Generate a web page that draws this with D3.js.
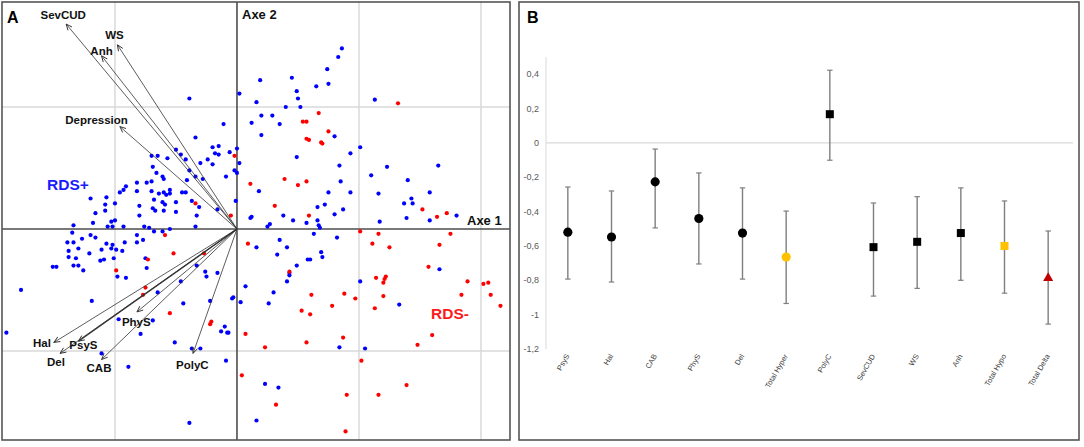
<!DOCTYPE html>
<html><head><meta charset="utf-8">
<script src="https://cdn.jsdelivr.net/npm/d3@7"></script>
<style>body{margin:0;background:#fff} svg{display:block;font-family:"Liberation Sans",Arial,sans-serif}</style>
</head><body><svg id="c" width="1084" height="447"></svg>
<script>
// ---------- Panel A data (PCA plane, axis 1 / axis 2) ----------
const rdsPlusPoints = [
[-0.39,1.07],[-0.11,0.86],[-0.34,0.75],[-0.20,0.67],[-0.15,0.68],[0.00,0.66],[-0.70,0.60],[-0.65,0.60],[-0.57,0.58],[-0.50,0.65],[-0.46,0.61],[-0.42,0.57],[-0.18,0.62],[-0.15,0.61],[-0.24,0.57],[-0.30,0.54],[-0.20,0.53],[-0.06,0.63],[0.02,0.54],[-0.69,0.51],[-0.39,0.48],[-0.34,0.43],[-0.41,0.40],[-0.28,0.41],[-0.09,0.43],[-0.02,0.48],[0.00,0.46],[-0.66,0.46],[-0.61,0.43],[-0.60,0.41],[-0.70,0.39],[-0.74,0.38],[-0.82,0.38],[-0.91,0.35],[-0.93,0.32],[-0.96,0.30],[-0.82,0.31],[-0.70,0.31],[-0.60,0.30],[-0.55,0.32],[-0.55,0.29],[-0.58,0.28],[-0.64,0.29],[-0.68,0.24],[-0.61,0.22],[-0.59,0.20],[-0.50,0.22],[-0.45,0.30],[-0.42,0.30],[-0.37,0.23],[-0.31,0.18],[-0.16,0.16],[-0.01,0.23],[-1.20,0.25],[-1.07,0.26],[-1.00,0.21],[-1.08,0.20],[-1.16,0.13],[-1.08,0.15],[-0.80,0.19],[-0.80,0.11],[-0.69,0.17],[-0.67,0.15],[-0.60,0.15],[-0.50,0.14],[-0.33,0.11],[-1.03,0.06],[-1.00,0.07],[-1.18,0.05],[-1.34,0.03],[-0.93,0.02],[-0.76,0.02],[-0.72,0.01],[-0.68,-0.02],[-0.61,-0.02],[-1.06,0.02],[-1.02,0.02],[-0.55,0.00],[-0.34,0.02],
[-1.35,-0.03],[-1.27,-0.08],[-1.20,-0.05],[-1.16,-0.07],[-1.39,-0.11],[-1.34,-0.11],[-1.30,-0.16],[-1.38,-0.18],[-1.21,-0.20],[-1.38,-0.23],[-1.32,-0.24],[-1.07,-0.12],[-1.02,-0.13],[-1.11,-0.17],[-1.03,-0.16],[-0.99,-0.17],[-0.94,-0.18],[-1.12,-0.26],[-1.09,-0.25],[-1.01,-0.24],[-0.92,-0.11],[-0.82,-0.05],[-0.77,-0.09],[-0.82,-0.11],[-0.75,-0.24],[-0.74,-0.32],[-1.51,-0.31],[-1.48,-0.31],[-1.34,-0.30],[-1.30,-0.30],[-1.26,-0.34],[-0.98,-0.39],[-0.91,-0.40],[-0.33,-0.30],[-0.26,-0.35],[-0.25,-0.39],[-0.16,-0.36],[-0.46,-0.43],[-1.77,-0.50],[-0.65,-0.52],[-1.19,-0.59],[-0.44,-0.61],[-0.97,-0.74],[-0.69,-0.75],[-1.89,-0.85],[-0.79,-0.86],[-0.51,-0.93],[-0.37,-0.98],[-0.30,-0.98],[-1.11,-1.02],[-0.89,-1.13],[-0.09,-1.08],[-0.39,-1.59],[-0.03,-0.56],[-0.04,-0.57],[-0.22,-0.59],[-0.13,-0.84],[-0.10,-0.80],[-0.08,-0.85],[-0.07,-0.85],
[0.86,1.48],[0.83,1.41],[0.74,1.31],[0.19,1.22],[0.45,1.24],[0.65,1.17],[0.75,1.19],[0.49,1.13],[0.50,1.07],[0.02,1.11],[0.16,1.04],[0.40,1.00],[0.52,1.00],[1.13,1.06],[0.20,0.93],[0.29,0.93],[0.12,0.87],[0.35,0.86],[0.20,0.77],[0.80,0.76],[1.01,0.67],[0.93,0.62],[0.49,0.59],[0.84,0.52],[1.23,0.51],[1.65,0.52],[1.10,0.44],[1.40,0.40],[0.85,0.39],[0.18,0.31],[0.75,0.30],[0.93,0.30],[1.16,0.29],[1.58,0.30],[1.43,0.25],[1.44,0.21],[1.37,0.21],[0.66,0.18],[0.72,0.20],[0.87,0.16],[0.38,0.11],[0.80,0.12],[0.12,0.10],[0.11,0.09],[1.39,0.09],[1.80,0.11],[0.46,0.07],[0.57,0.05],[0.66,0.07],[0.67,0.03],[0.68,0.01],[0.27,0.04],[0.25,0.02],[1.17,0.06],[1.58,0.07],
[0.63,-0.04],[0.82,-0.07],[0.16,-0.15],[0.35,-0.09],[0.41,-0.15],[0.33,-0.21],[0.69,-0.19],[0.70,-0.23],[0.58,-0.25],[0.60,-0.25],[0.49,-0.30],[0.43,-0.36],[0.43,-0.38],[0.41,-0.43],[0.07,-0.47],[0.30,-0.52],[0.26,-0.61],[0.03,-0.60],[1.01,-0.43],[1.33,-0.62],[1.66,-0.33],[0.84,-0.97],[1.05,-0.98],[0.23,-1.27],[0.34,-1.30],[0.16,-1.57]
];
const rdsMinusPoints = [
[-0.02,0.60],[-0.34,0.21],[-0.05,0.11],[-0.73,-0.25],[-0.59,-0.05],[-0.52,-0.20],[-0.27,-0.20],[-0.99,-0.34],[-0.75,-0.48],[-0.77,-0.54],[-0.55,-0.69],[-0.22,-0.78],[-0.21,-0.76],[1.32,1.03],[0.67,0.95],[0.54,0.88],[0.57,0.88],[0.75,0.80],[0.57,0.74],[0.59,0.73],[0.69,0.71],[0.70,0.70],[0.11,0.37],[0.39,0.41],[0.50,0.36],[0.57,0.39],[0.31,0.19],[0.59,0.11],[1.52,0.16],[1.64,0.10],[1.72,0.13],[0.09,-0.12],[0.43,-0.35],[1.01,-0.02],[1.16,-0.04],[1.11,-0.12],[1.25,-0.15],[1.75,-0.04],[1.66,-0.13],[1.57,-0.31],[1.14,-0.40],[1.22,-0.39],[1.21,-0.41],[1.20,-0.44],[1.89,-0.43],[2.02,-0.45],[2.06,-0.44],[0.61,-0.54],[0.88,-0.53],[0.97,-0.57],[1.20,-0.55],[1.84,-0.54],[2.08,-0.54],[2.16,-0.63],[0.78,-0.63],[1.13,-0.65],[0.53,-0.67],[0.60,-0.70],[0.07,-0.86],[0.87,-0.89],[1.60,-0.87],[0.23,-0.97],[0.57,-0.93],[1.48,-0.95],[1.02,-1.08],[0.04,-1.20],[1.39,-1.28],[0.90,-1.36],[1.16,-1.36],[0.32,-1.44],[0.89,-1.66]
];
const varNames = ["SevCUD","WS","Anh","Depression","Hal","PsyS","Del","CAB","PhyS","PolyC"];
const varAxis1 = [-1.40,-0.98,-1.11,-0.96,-1.50,-1.30,-1.45,-1.11,-0.82,-0.36];
const varAxis2 = [1.68,1.51,1.42,0.84,-0.93,-0.92,-1.02,-1.07,-0.68,-1.02];
const gridA1 = [-1,1,2];
const gridA2 = [-1,1];

// ---------- Panel B data ----------
const catsB  = ["PsyS","Hal","CAB","PhyS","Del","Total Hyper","PolyC","SevCUD","WS","Anh","Total Hypo","Total Delta"];
const meanB  = [-0.52,-0.548,-0.227,-0.44,-0.525,-0.665,0.167,-0.607,-0.576,-0.525,-0.60,-0.787];
const lowB   = [-0.793,-0.81,-0.495,-0.705,-0.793,-0.935,-0.101,-0.892,-0.847,-0.80,-0.875,-1.055];
const highB  = [-0.257,-0.28,-0.036,-0.175,-0.262,-0.397,0.423,-0.35,-0.313,-0.262,-0.338,-0.513];
const groupB = ["hyper","hyper","hyper","hyper","hyper","hyperTotal","hypo","hypo","hypo","hypo","hypoTotal","delta"];
const ticksB = [-1.2,-1,-0.8,-0.6,-0.4,-0.2,0,0.2,0.4];

// ---------- styles / layout ----------
const labelLayout = {
  SevCUD:{dx:-3,dy:-5,a:"middle"}, WS:{dx:-3,dy:-6,a:"middle"}, Anh:{dx:0,dy:-1,a:"middle"},
  Depression:{dx:8,dy:-3,a:"end"}, Hal:{dx:-3,dy:5,a:"end"}, PsyS:{dx:-9,dy:8,a:"start"},
  Del:{dx:-13,dy:13,a:"start"}, CAB:{dx:-15,dy:13,a:"start"}, PhyS:{dx:-15,dy:14,a:"start"},
  PolyC:{dx:-17,dy:16,a:"start"}
};
const markerStyle = {
  hyper:{shape:"circle",fill:"#000"}, hyperTotal:{shape:"circle",fill:"#FFC000"},
  hypo:{shape:"square",fill:"#000"}, hypoTotal:{shape:"square",fill:"#FFC000"},
  delta:{shape:"triangle",fill:"#C00000"}
};

const svg = d3.select("#c");
svg.append("rect").attr("width",1084).attr("height",447).attr("fill","#fff");
const defs = svg.append("defs");
defs.append("marker").attr("id","arr").attr("viewBox","-8 -4 9 8").attr("refX",0).attr("refY",0)
  .attr("markerWidth",9).attr("markerHeight",8).attr("markerUnits","userSpaceOnUse").attr("orient","auto")
  .append("path").attr("d","M-6,-2.6L0,0L-6,2.6").attr("fill","none").attr("stroke","#333").attr("stroke-width",0.9);

// ================= Panel A =================
const xA = d3.scaleLinear().domain([-1.926,2.238]).range([2,510]);
const yA = d3.scaleLinear().domain([-1.730,1.861]).range([440,2]);
const gA = svg.append("g");
gA.selectAll(".gx").data(gridA1).join("line").attr("x1",d=>xA(d)).attr("x2",d=>xA(d))
  .attr("y1",yA.range()[1]).attr("y2",yA.range()[0]).attr("stroke","#d9d9d9").attr("stroke-width",1.5);
gA.selectAll(".gy").data(gridA2).join("line").attr("y1",d=>yA(d)).attr("y2",d=>yA(d))
  .attr("x1",xA.range()[0]).attr("x2",xA.range()[1]).attr("stroke","#d9d9d9").attr("stroke-width",1.5);
// main axes
gA.append("line").attr("x1",xA(0)).attr("x2",xA(0)).attr("y1",2).attr("y2",440).attr("stroke","#4d4d4d").attr("stroke-width",1.6);
gA.append("line").attr("x1",2).attr("x2",510).attr("y1",yA(0)).attr("y2",yA(0)).attr("stroke","#4d4d4d").attr("stroke-width",1.6);

// points
gA.selectAll(".pb").data(rdsPlusPoints).join("circle").attr("cx",d=>xA(d[0])).attr("cy",d=>yA(d[1])).attr("r",2.1).attr("fill","#0000ff");
gA.selectAll(".pr").data(rdsMinusPoints).join("circle").attr("cx",d=>xA(d[0])).attr("cy",d=>yA(d[1])).attr("r",2.1).attr("fill","#ff0000");

// vectors
const vars = varNames.map((n,i)=>({n, x:varAxis1[i], y:varAxis2[i]}));
gA.selectAll(".v").data(vars).join("line").attr("x1",xA(0)).attr("y1",yA(0))
  .attr("x2",d=>xA(d.x)).attr("y2",d=>yA(d.y)).attr("stroke","#333")
  .attr("stroke-width",d=>d.n==="PsyS"?1.4:0.8).attr("marker-end","url(#arr)");
gA.selectAll(".vl").data(vars).join("text")
  .attr("x",d=>xA(d.x)+labelLayout[d.n].dx).attr("y",d=>yA(d.y)+labelLayout[d.n].dy)
  .attr("text-anchor",d=>labelLayout[d.n].a).attr("font-size",11.5).attr("font-weight","bold").attr("fill","#111")
  .text(d=>d.n);

gA.append("text").attr("x",242).attr("y",19).attr("font-size",13).attr("font-weight","bold").attr("fill","#111").text("Axe 2");
gA.append("text").attr("x",467).attr("y",225).attr("font-size",13).attr("font-weight","bold").attr("fill","#111").text("Axe 1");
gA.append("text").attr("x",47).attr("y",190).attr("font-size",15.5).attr("font-weight","bold").attr("fill","#1a1aff").text("RDS+");
gA.append("text").attr("x",431).attr("y",319).attr("font-size",15.5).attr("font-weight","bold").attr("fill","#ff1a1a").text("RDS-");
gA.append("text").attr("x",7).attr("y",23).attr("font-size",16).attr("font-weight","bold").attr("fill","#000").text("A");
gA.append("rect").attr("x",2).attr("y",2).attr("width",508).attr("height",438).attr("fill","none").attr("stroke","#555").attr("stroke-width",1.6);

// ================= Panel B =================
const gB = svg.append("g");
const xB = d3.scaleBand().domain(catsB).range([546,1070]);
const yB = d3.scaleLinear().domain([-1.2,0.5]).range([349,57]);
const loc = d3.formatLocale({decimal:",",thousands:".",grouping:[3],currency:["",""],minus:"-"});
const fmt = loc.format("~g");

gB.append("line").attr("x1",546).attr("x2",546).attr("y1",yB(0.5)).attr("y2",yB(-1.2)).attr("stroke","#d9d9d9").attr("stroke-width",1);
gB.append("line").attr("x1",546).attr("x2",1073).attr("y1",yB(0)).attr("y2",yB(0)).attr("stroke","#d9d9d9").attr("stroke-width",1.2);
gB.selectAll(".yt").data(ticksB).join("text").attr("x",539).attr("y",d=>yB(d)).attr("dy","0.35em")
  .attr("text-anchor","end").attr("font-size",9).attr("fill","#595959").text(d=>fmt(d));
gB.selectAll(".xt").data(catsB).join("text")
  .attr("transform",d=>`translate(${xB(d)+xB.bandwidth()/2+2},356) rotate(-60)`)
  .attr("text-anchor","end").attr("font-size",7.5).attr("fill","#404040").text(d=>d);

const rows = catsB.map((c,i)=>({c, m:meanB[i], lo:lowB[i], hi:highB[i], g:groupB[i]}));
const cx = d=>xB(d.c)+xB.bandwidth()/2;
gB.selectAll(".eb").data(rows).join("line").attr("x1",cx).attr("x2",cx).attr("y1",d=>yB(d.lo)).attr("y2",d=>yB(d.hi))
  .attr("stroke","#7f7f7f").attr("stroke-width",1.4);
gB.selectAll(".ct").data(rows).join("line").attr("x1",d=>cx(d)-2.7).attr("x2",d=>cx(d)+2.7).attr("y1",d=>yB(d.hi)).attr("y2",d=>yB(d.hi))
  .attr("stroke","#7f7f7f").attr("stroke-width",1.2);
gB.selectAll(".cb").data(rows).join("line").attr("x1",d=>cx(d)-2.7).attr("x2",d=>cx(d)+2.7).attr("y1",d=>yB(d.lo)).attr("y2",d=>yB(d.lo))
  .attr("stroke","#7f7f7f").attr("stroke-width",1.2);
const shapeMap = {circle:d3.symbolCircle, square:d3.symbolSquare, triangle:d3.symbolTriangle};
const sizeMap = {circle:66, square:64, triangle:44};
gB.selectAll(".mk").data(rows).join("path")
  .attr("transform",d=>`translate(${cx(d)},${yB(d.m)})`)
  .attr("d",d=>d3.symbol().type(shapeMap[markerStyle[d.g].shape]).size(sizeMap[markerStyle[d.g].shape])())
  .attr("fill",d=>markerStyle[d.g].fill);

gB.append("text").attr("x",527).attr("y",23).attr("font-size",16).attr("font-weight","bold").attr("fill","#000").text("B");
gB.append("rect").attr("x",519).attr("y",2).attr("width",560).attr("height",438).attr("fill","none").attr("stroke","#555").attr("stroke-width",1.6);
</script></body></html>
